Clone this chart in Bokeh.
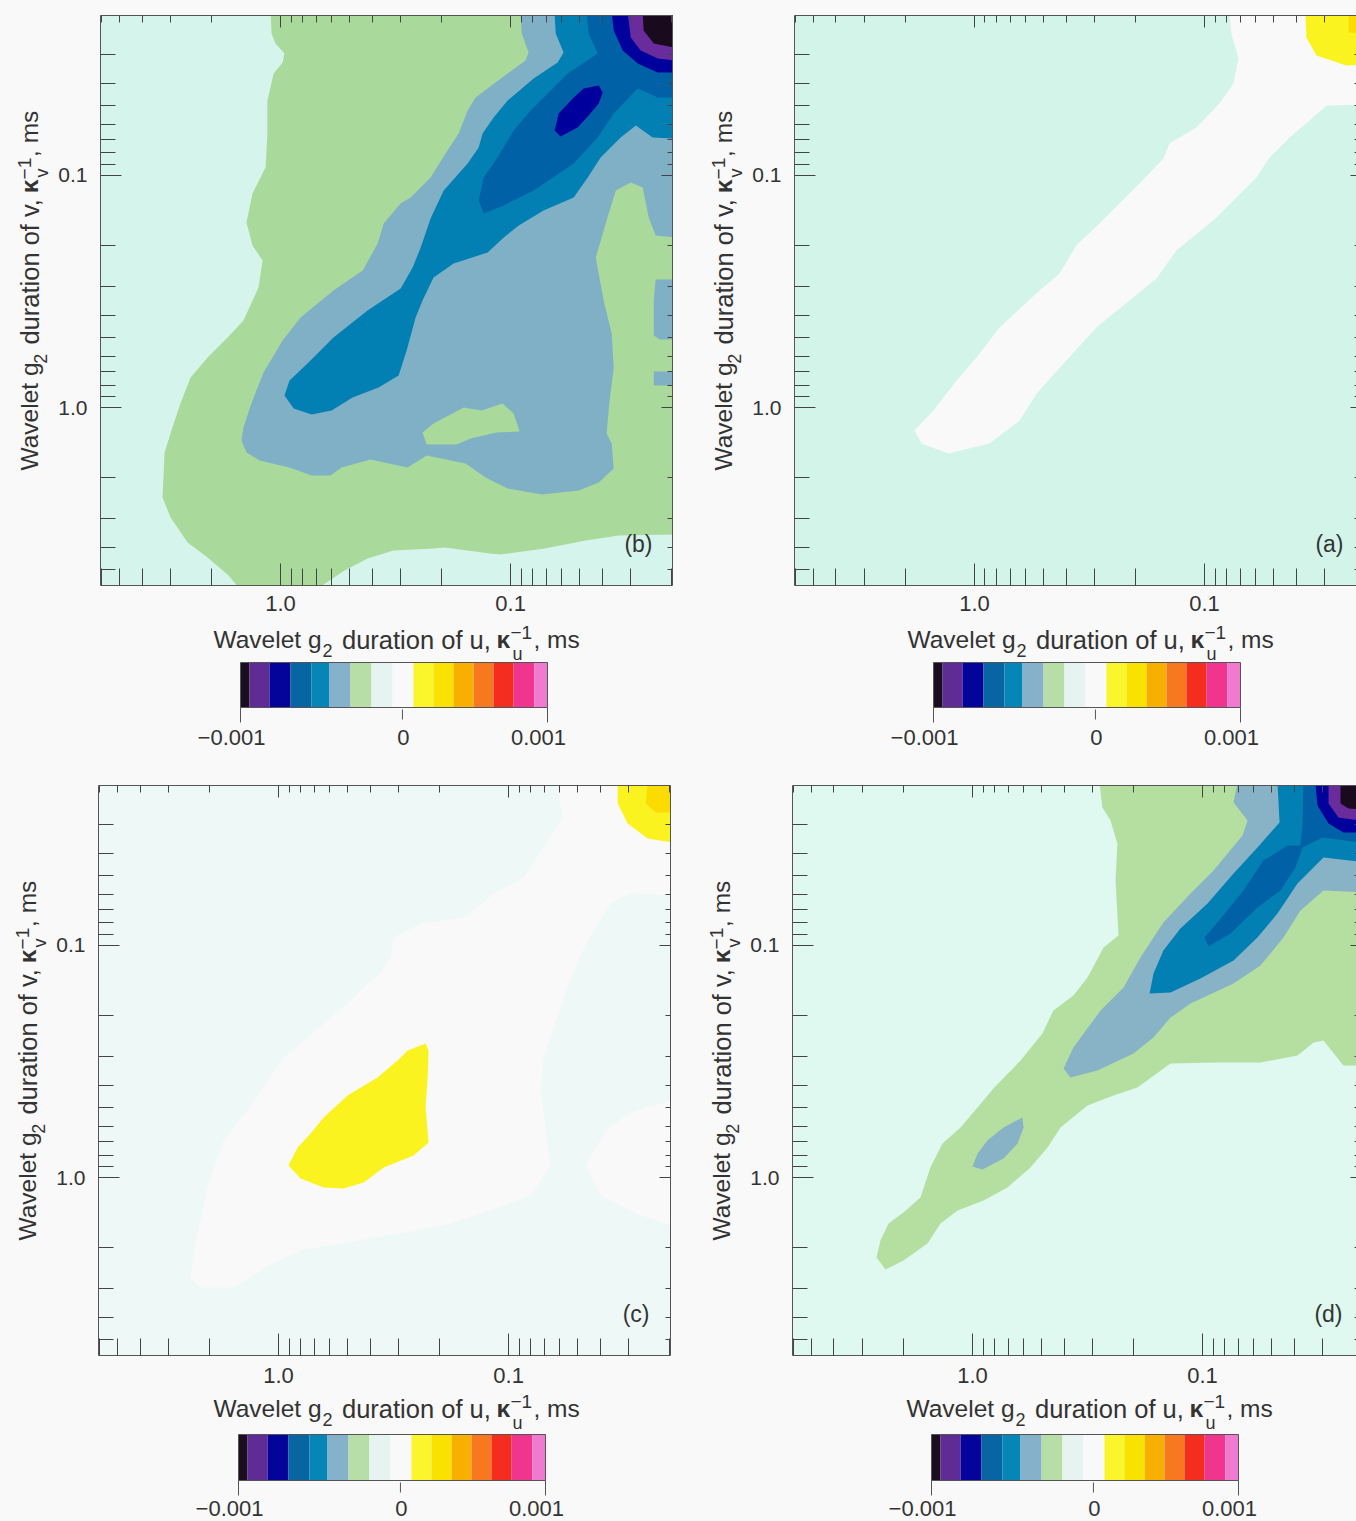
from bokeh.embed import file_html
from bokeh.layouts import column, row
from bokeh.models import FixedTicker, Label, LogAxis, LogScale, Range1d
from bokeh.plotting import figure
from bokeh.resources import INLINE
import math

# ---- axis ticks (ms) -------------------------------------------------------
MAJOR_TICKS = [1.0, 0.1]
MINOR_TICKS = [0.02, 0.03, 0.04, 0.05, 0.06, 0.07, 0.08, 0.09,
               0.2, 0.3, 0.4, 0.5, 0.6, 0.7, 0.8, 0.9, 2, 3, 4, 5, 6]
TICK_LABELS = {1: "1.0", 0.1: "0.1"}

# ---- colour-bar levels ------------------------------------------------------
CB_EDGES = [-1, -.941, -.811, -.674, -.537, -.420, -.283, -.147, -.010, .127, .257,
            .388, .518, .648, .779, .915, 1]
CB_COLORS = ["#1a0d1f", "#5f2c96", "#04049a", "#0865a3", "#0586b6", "#85b2ca", "#b8dea8",
             "#e6f3f0", "#f9f9f9", "#fbf52c", "#fae200", "#f8b000", "#f87820", "#f52d1e",
             "#f0358f", "#f07ad0"]
CB_TICKS = [-1, 0.055, 1]
CB_LABELS = ["\u22120.001", "0", "0.001"]

# ---- contour regions: log10(duration of u), log10(duration of v) -------------
B_GREEN_U = [.043,.039,.022,-.017,-.009,.030,.057,.057,.065,.122,.148,.122,.078,.096,.161,.230,.317,.391,.435,.470,.504,.513,.478,.404,.317,.226,.178,-.161,-.278,-.378,-.491,-.665,-.713,-.909,-.957,-1.148,-1.326,-1.470,-1.71,-1.71]
B_GREEN_V = [-1.70,-1.612,-1.569,-1.526,-1.487,-1.440,-1.323,-1.181,-1.034,-.922,-.797,-.698,-.634,-.517,-.375,-.302,-.216,-.129,-.017,.086,.194,.388,.474,.582,.647,.724,.78,.78,.703,.651,.616,.608,.603,.629,.634,.608,.573,.552,.547,-1.70]

B_GREY_U = [-1.043,-1.048,-1.078,-1.065,-.957,-.848,-.813,-.774,-.717,-.652,-.565,-.522,-.448,-.422,-.357,-.230,-.087,-.009,.074,.130,.161,.170,.148,.091,-.039,-.135,-.217,-.265,-.391,-.552,-.635,-.804,-.891,-.987,-1.135,-1.296,-1.383,-1.448,-1.439,-1.417,-1.430,-1.448,-1.439,-1.404,-1.370,-1.426,-1.457,-1.522,-1.574,-1.600,-1.630,-1.71,-1.71]
B_GREY_V = [-1.70,-1.612,-1.530,-1.496,-1.418,-1.336,-1.280,-1.181,-1.095,-.991,-.905,-.879,-.793,-.707,-.590,-.504,-.388,-.289,-.151,-.009,.086,.142,.194,.228,.259,.293,.293,.259,.224,.259,.207,.241,.302,.349,.375,.358,.323,.263,.155,.112,-.030,-.172,-.319,-.461,-.647,-.836,-.935,-.970,-.948,-.819,-.741,-.733,-1.70]

B_GREY_EDGE1_U = [-1.71,-1.63,-1.622,-1.622,-1.648,-1.71]
B_GREY_EDGE1_V = [-.552,-.552,-.46,-.31,-.293,-.293]
B_GREY_EDGE2_U = [-1.71,-1.622,-1.622,-1.71]
B_GREY_EDGE2_V = [-.155,-.155,-.095,-.095]

B_ISLE_U = [-.617,-.665,-.796,-.874,-.965,-1.013,-1.039,-.939,-.826,-.765,-.635]
B_ISLE_V = [.108,.069,0,.013,-.017,.026,.103,.108,.134,.159,.159]

B_BLUE_U = [-1.191,-1.196,-1.230,-1.204,-1.100,-.987,-.926,-.878,-.861,-.813,-.709,-.652,-.609,-.574,-.522,-.378,-.230,-.117,-.039,-.017,-.057,-.135,-.222,-.313,-.426,-.513,-.548,-.587,-.617,-.665,-.752,-.900,-.970,-1.035,-1.143,-1.274,-1.335,-1.391,-1.478,-1.544,-1.617,-1.71,-1.71]
B_BLUE_V = [-1.70,-1.612,-1.530,-1.487,-1.418,-1.323,-1.250,-1.181,-1.121,-1.052,-.935,-.815,-.690,-.603,-.513,-.418,-.302,-.190,-.116,-.052,.004,.030,.013,-.043,-.086,-.138,-.246,-.388,-.461,-.560,-.621,-.668,-.733,-.784,-.849,-.905,-.991,-1.078,-1.164,-1.215,-1.164,-1.159,-1.70]

B_DARK_U = [-1.330,-1.339,-1.378,-1.248,-1.161,-1.087,-1.013,-.943,-.883,-.861,-.883,-.970,-1.100,-1.274,-1.378,-1.448,-1.552,-1.639,-1.71,-1.71]
B_DARK_V = [-1.70,-1.612,-1.526,-1.440,-1.353,-1.280,-1.194,-1.078,-.991,-.892,-.836,-.871,-.935,-1.052,-1.164,-1.267,-1.375,-1.336,-1.336,-1.70]

B_NAVY_U = [-1.439,-1.448,-1.487,-1.552,-1.639,-1.71,-1.71]
B_NAVY_V = [-1.70,-1.625,-1.539,-1.483,-1.444,-1.444,-1.70]
B_PURPLE_U = [-1.509,-1.522,-1.565,-1.639,-1.71,-1.71]
B_PURPLE_V = [-1.70,-1.595,-1.539,-1.504,-1.496,-1.70]
B_BLACK_U = [-1.574,-1.578,-1.622,-1.71,-1.71]
B_BLACK_V = [-1.70,-1.625,-1.569,-1.552,-1.70]

B_CORE_U = [-1.383,-1.400,-1.383,-1.339,-1.291,-1.217,-1.191,-1.209,-1.274,-1.317]
B_CORE_V = [-1.388,-1.358,-1.310,-1.259,-1.207,-1.168,-1.194,-1.267,-1.336,-1.375]

A_WHITE_U = [-1.109,-1.117,-1.148,-1.126,-1.065,-.965,-.848,-.822,-.717,-.543,-.443,-.370,-.283,-.109,-.009,.078,.178,.261,.230,.113,-.065,-.196,-.270,-.387,-.530,-.791,-.878,-1.052,-1.226,-1.283,-1.370,-1.457,-1.530,-1.71,-1.71]
A_WHITE_V = [-1.70,-1.612,-1.504,-1.396,-1.310,-1.207,-1.138,-1.073,-.965,-.793,-.698,-.578,-.504,-.345,-.216,-.116,.013,.099,.155,.198,.155,.056,-.060,-.190,-.345,-.556,-.677,-.819,-.991,-1.078,-1.164,-1.237,-1.302,-1.306,-1.70]
A_YELLOW_U = [-1.439,-1.443,-1.487,-1.617,-1.71,-1.71]
A_YELLOW_V = [-1.70,-1.595,-1.517,-1.474,-1.478,-1.70]
A_GOLD_U = [-1.626,-1.626,-1.71,-1.71]
A_GOLD_V = [-1.70,-1.616,-1.612,-1.70]

C_WHITE_U = [-1.217,-1.71,-1.71,-1.530,-1.443,-1.343,-1.270,-1.196,-1.152,-1.139,-1.161,-1.183,-1.096,-.922,-.748,-.604,-.343,-.096,.022,.196,.339,.383,.370,.309,.239,.135,-.022,-.196,-.313,-.400,-.443,-.487,-.500,-.617,-.804,-.935,-1.065,-1.170,-1.235,-1.217]
C_WHITE_V = [-1.70,-1.70,-1.215,-1.224,-1.181,-1.021,-.862,-.647,-.517,-.375,-.203,-.052,.078,.142,.198,.228,.272,.315,.371,.474,.474,.431,.328,.043,-.159,-.289,-.517,-.664,-.763,-.849,-.879,-.948,-1.034,-1.095,-1.121,-1.224,-1.293,-1.452,-1.552,-1.646]
C_PATCH_U = [-1.71,-1.530,-1.422,-1.335,-1.400,-1.574,-1.71]
C_PATCH_V = [-.332,-.280,-.203,-.052,.078,.164,.207]
C_ISLE_U = [-.639,-.652,-.648,-.639,-.652,-.587,-.457,-.370,-.283,-.196,-.096,-.043,-.083,-.139,-.196,-.300,-.430,-.517,-.561]
C_ISLE_V = [-.578,-.547,-.431,-.302,-.151,-.095,-.043,.022,.047,.043,.004,-.052,-.129,-.190,-.259,-.353,-.431,-.504,-.547]
C_YELLOW_U = [-1.474,-1.474,-1.517,-1.604,-1.71,-1.71]
C_YELLOW_V = [-1.70,-1.612,-1.526,-1.461,-1.444,-1.70]
C_GOLD_U = [-1.604,-1.596,-1.639,-1.71,-1.71]
C_GOLD_V = [-1.70,-1.612,-1.573,-1.573,-1.70]

D_GREEN_U = [-.552,-.565,-.600,-.630,-.622,-.635,-.570,-.500,-.439,-.352,-.304,-.209,-.091,-.022,.052,.130,.183,.226,.300,.365,.400,.417,.378,.300,.196,.139,.065,-.048,-.152,-.252,-.326,-.383,-.500,-.613,-.717,-.861,-1.048,-1.252,-1.413,-1.483,-1.526,-1.613,-1.71,-1.71]
D_GREEN_V = [-1.70,-1.595,-1.539,-1.440,-1.280,-1.043,-.991,-.862,-.784,-.720,-.621,-.504,-.384,-.302,-.216,-.147,-.043,.086,.151,.198,.272,.345,.397,.358,.284,.198,.142,.099,.043,-.043,-.129,-.216,-.310,-.353,-.388,-.491,-.496,-.496,-.526,-.582,-.590,-.483,-.483,-1.70]
D_GREY_U = [-1.152,-1.135,-1.196,-1.174,-1.048,-.948,-.830,-.730,-.657,-.557,-.439,-.396,-.426,-.543,-.700,-.787,-.861,-.948,-1.135,-1.252,-1.352,-1.426,-1.526,-1.71,-1.71]
D_GREY_V = [-1.70,-1.616,-1.539,-1.474,-1.323,-1.224,-1.099,-.948,-.819,-.720,-.560,-.470,-.431,-.461,-.534,-.603,-.690,-.750,-.836,-.914,-1.034,-1.151,-1.237,-1.228,-1.70]
D_ISLE_U = [-.217,-.222,-.196,-.135,-.043,0,-.022,-.065,-.135]
D_ISLE_V = [-.259,-.216,-.147,-.082,-.034,-.047,-.103,-.159,-.216]
D_BLUE_U = [-1.326,-1.335,-1.239,-1.135,-1.022,-.904,-.830,-.787,-.770,-.861,-.991,-1.135,-1.239,-1.326,-1.413,-1.526,-1.71,-1.71]
D_BLUE_V = [-1.70,-1.530,-1.422,-1.310,-1.181,-1.073,-.978,-.879,-.793,-.797,-.858,-.935,-1.034,-1.138,-1.267,-1.379,-1.358,-1.70]
D_DARK_U = [-1.439,-1.435,-1.426,-1.370,-1.265,-1.178,-1.065,-1.009,-1.026,-1.122,-1.239,-1.339,-1.404,-1.435,-1.522,-1.71,-1.71]
D_DARK_V = [-1.70,-1.526,-1.431,-1.431,-1.366,-1.237,-1.099,-1.034,-.996,-1.052,-1.164,-1.237,-1.336,-1.422,-1.465,-1.440,-1.70]
D_NAVY_U = [-1.491,-1.500,-1.548,-1.613,-1.71,-1.71]
D_NAVY_V = [-1.70,-1.603,-1.526,-1.487,-1.487,-1.70]
D_PURPLE_U = [-1.548,-1.548,-1.591,-1.71,-1.71]
D_PURPLE_V = [-1.70,-1.612,-1.552,-1.534,-1.70]
D_BLACK_U = [-1.600,-1.600,-1.635,-1.71,-1.71]
D_BLACK_V = [-1.70,-1.612,-1.590,-1.586,-1.70]

# ---- colours ----------------------------------------------------------------
PAGE = "#f9f9f9"
INK = "#333333"
AXIS = "#555555"
FONT = "Liberation Sans"
BLACK, PURPLE, NAVY = "#1a0a1e", "#6a2b9c", "#00009c"
DARK, BLUE = "#0061a6", "#0280b4"
YELLOW, GOLD = "#fbf31f", "#fcdc00"

U_START = 6.06
V_BOTTOM, V_TOP = 5.85, 0.02044
PANEL_BOTTOM = 36


def make_axis(major_in, minor_in, line=True, labelled=False, size="22px"):
    ax = LogAxis(ticker=FixedTicker(ticks=MAJOR_TICKS, minor_ticks=MINOR_TICKS),
                 major_tick_in=major_in, major_tick_out=0, minor_tick_in=minor_in, minor_tick_out=0,
                 major_tick_line_color="#444444", minor_tick_line_color="#444444",
                 axis_line_color=AXIS if line else None)
    if labelled:
        ax.major_label_overrides = TICK_LABELS
        ax.major_label_text_font = FONT
        ax.major_label_text_font_size = size
        ax.major_label_text_color = INK
        ax.major_label_standoff = 12
    else:
        ax.major_label_overrides = {1: "", 0.1: ""}
        ax.major_label_text_font_size = "1px"
        ax.major_label_standoff = 0
    return ax


def add_title(p, axis, var, x0, y0):
    """Axis title built from real text pieces; x0, y0 = start, baseline inside the frame of p."""
    # text, offset along the line, shift across it (x title, y title), size, style
    pieces = [("Wavelet g", 0, 0, 0, "24.5px", "normal"),
              ("2", 109, -11, -11, "18px", "normal"),
              ("duration of %s," % var, 128.5, 0, 0, "25.5px", "normal"),
              ("\u03ba", 283, 0, 0, "24.5px", "bold"),
              (var, 299, -14, -12, "18px", "normal"),
              ("\u22121", 297, 7, 5.5, "19px", "normal"),
              (", ms", 320, 0, 0, "24.5px", "normal")]
    for text, along, shift_x, shift_y, size, style in pieces:
        if axis == "x":
            kw = dict(x=x0 + along, y=y0 + shift_x, angle=0)
        else:
            kw = dict(x=x0 - shift_y, y=y0 + along * 0.98, angle=math.pi / 2)
        p.add_layout(Label(text=text, x_units="screen", y_units="screen", text_font=FONT,
                           text_font_size=size, text_font_style=style, text_color=INK,
                           text_align="left", text_baseline="alphabetic", **kw))


def panel(tag, bg, regions, left, frame_w, right, top, u_end, has_spine, tag_x, tag_y, xstand):
    p = figure(x_axis_type=None, y_axis_type=None, output_backend="svg", toolbar_location=None,
               x_range=Range1d(U_START, u_end), y_range=Range1d(V_BOTTOM, V_TOP),
               frame_width=frame_w, frame_height=570,
               min_border_left=left, min_border_right=right, min_border_top=top,
               min_border_bottom=PANEL_BOTTOM,
               background_fill_color=bg, border_fill_color=PAGE, outline_line_color=None)
    p.x_scale = LogScale()
    p.y_scale = LogScale()
    for u, v, color in regions:
        p.patch([10 ** a for a in u], [10 ** b for b in v], fill_color=color, line_color=None)
    bottom_axis = make_axis(22, 17, labelled=True)
    bottom_axis.major_label_standoff = xstand
    p.add_layout(bottom_axis, "below")
    left_axis = make_axis(21, 15, labelled=True, size="21px")
    left_axis.major_label_standoff = 13
    left_axis.major_label_orientation = "horizontal"
    p.add_layout(left_axis, "left")
    p.add_layout(make_axis(12, 7), "above")
    if has_spine:
        p.add_layout(make_axis(11, 5), "right")
    else:
        p.add_layout(make_axis(6, 2, line=False), "right")
    p.add_layout(Label(text=tag, x=tag_x, y=tag_y, x_units="screen", y_units="screen", text_font=FONT,
                       text_font_size="23px", text_color=INK, text_align="right",
                       text_baseline="alphabetic"))
    return p


def title_strip(width, top, baseline_x):
    """Narrow figure left of a panel; it only carries the rotated axis title."""
    s = figure(x_axis_type=None, y_axis_type=None, output_backend="svg", toolbar_location=None,
               x_range=Range1d(0, 1), y_range=Range1d(0, 1), frame_width=width, frame_height=570,
               min_border_left=0, min_border_right=0, min_border_top=top, min_border_bottom=PANEL_BOTTOM,
               background_fill_color=PAGE, border_fill_color=PAGE, outline_line_color=None)
    add_title(s, "y", "v", baseline_x, 115)
    return s


def colorbar(left, frame_w, right, pad_left, pad_right, bar_h, above, below, title_x, title_y, label_y):
    """Strip under a panel (same frame edges): holds x title, colour bar, its ticks and labels.
    above, below = free pixels over and under the bar."""
    px = 2 / 307
    c = figure(x_axis_type=None, y_axis_type=None, output_backend="svg", toolbar_location=None,
               x_range=Range1d(-1 - pad_left * px, 1 + pad_right * px),
               y_range=Range1d(-below / bar_h, 1 + above / bar_h),
               frame_width=frame_w, frame_height=bar_h + above + below,
               min_border_left=left, min_border_right=right, min_border_top=0, min_border_bottom=0,
               background_fill_color=PAGE, border_fill_color=PAGE, outline_line_color=None)
    c.quad(left=CB_EDGES[:-1], right=CB_EDGES[1:], bottom=0, top=1, fill_color=CB_COLORS, line_color=None)
    c.quad(left=[-1], right=[1], bottom=[0], top=[1], fill_color=None, line_color=AXIS, line_width=1)
    tick_ends = [-15 / bar_h, -12 / bar_h, -15 / bar_h]
    c.segment(x0=CB_TICKS, x1=CB_TICKS, y0=[0, -2 / bar_h, 0], y1=tick_ends, line_color=AXIS, line_width=1)
    for text, x, off in zip(CB_LABELS, CB_TICKS, [-9, 1, -9]):
        c.add_layout(Label(text=text, x=x, y=label_y, y_units="screen", x_offset=off, text_font=FONT,
                           text_font_size="22px", text_color=INK, text_align="center",
                           text_baseline="alphabetic"))
    add_title(c, "x", "u", title_x, title_y)
    return c


BG_GREEN, BG_GREY = "#a9d99b", "#7fb0c5"
D_GREEN, D_GREY = "#b4dfa0", "#88b2c6"

p_b = panel("(b)", "#d5f5ec", [
    (B_GREEN_U, B_GREEN_V, BG_GREEN), (B_GREY_U, B_GREY_V, BG_GREY),
    (B_GREY_EDGE1_U, B_GREY_EDGE1_V, BG_GREY), (B_GREY_EDGE2_U, B_GREY_EDGE2_V, BG_GREY),
    (B_ISLE_U, B_ISLE_V, BG_GREEN), (B_BLUE_U, B_BLUE_V, BLUE), (B_DARK_U, B_DARK_V, DARK),
    (B_CORE_U, B_CORE_V, NAVY), (B_NAVY_U, B_NAVY_V, NAVY), (B_PURPLE_U, B_PURPLE_V, PURPLE),
    (B_BLACK_U, B_BLACK_V, BLACK)],
    50, 572, 30, 15, 0.0198, True, 552, 42, 10)

p_a = panel("(a)", "#d3f5e9", [
    (A_WHITE_U, A_WHITE_V, PAGE), (A_YELLOW_U, A_YELLOW_V, YELLOW), (A_GOLD_U, A_GOLD_V, GOLD)],
    46, 562, 0, 15, 0.02183, False, 549, 42, 10)

p_c = panel("(c)", "#eef8f6", [
    (C_WHITE_U, C_WHITE_V, PAGE), (C_PATCH_U, C_PATCH_V, PAGE), (C_ISLE_U, C_ISLE_V, YELLOW),
    (C_YELLOW_U, C_YELLOW_V, YELLOW), (C_GOLD_U, C_GOLD_V, GOLD)],
    50, 572, 30, 10, 0.0198, True, 551, 42, 12)

p_d = panel("(d)", "#dff8f0", [
    (D_GREEN_U, D_GREEN_V, D_GREEN), (D_GREY_U, D_GREY_V, D_GREY), (D_ISLE_U, D_ISLE_V, D_GREY),
    (D_BLUE_U, D_BLUE_V, BLUE), (D_DARK_U, D_DARK_V, DARK), (D_NAVY_U, D_NAVY_V, NAVY),
    (D_PURPLE_U, D_PURPLE_V, PURPLE), (D_BLACK_U, D_BLACK_V, BLACK)],
    46, 564, 0, 10, 0.0214, False, 550, 42, 12)

cb_b = colorbar(50, 572, 30, 140, 125, 45, 41, 68, 113, 136, 38)
cb_a = colorbar(46, 562, 0, 139, 116, 45, 41, 68, 113, 136, 38)
cb_c = colorbar(50, 572, 30, 140, 125, 46, 43, 41, 115, 113, 13)
cb_d = colorbar(46, 564, 0, 139, 118, 46, 43, 41, 114, 113, 13)

s_b = title_strip(50, 15, 29)
s_a = title_strip(46, 15, 21)
s_c = title_strip(48, 10, 27)
s_d = title_strip(46, 10, 21)

page = column(row(s_b, column(p_b, cb_b), s_a, column(p_a, cb_a)),
              row(s_c, column(p_c, cb_c), s_d, column(p_d, cb_d)))

html = file_html(page, INLINE)
html = html.replace("<head>", "<head><style>html,body{background:%s;}</style>" % PAGE, 1)
open("out.html", "w").write(html)
